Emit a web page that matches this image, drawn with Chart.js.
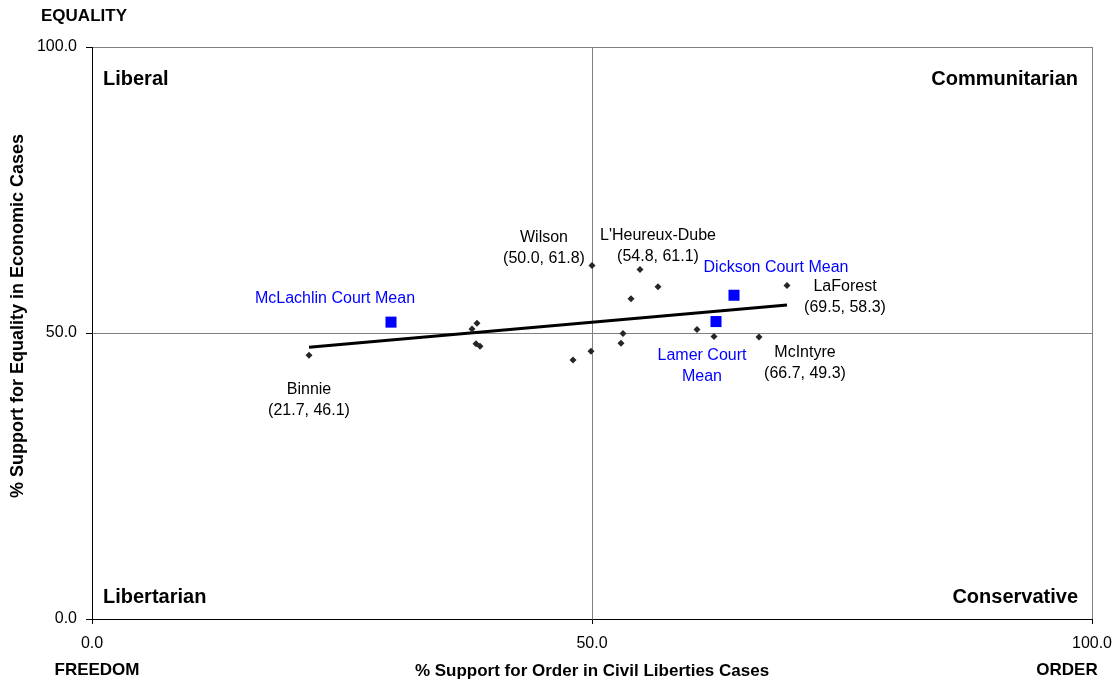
<!DOCTYPE html>
<html>
<head>
<meta charset="utf-8">
<script src="https://cdn.jsdelivr.net/npm/chart.js@4.4.1/dist/chart.umd.min.js"></script>
<style>
  html, body { margin: 0; padding: 0; background: #fff; }
  #wrap { width: 1119px; height: 686px; }
</style>
</head>
<body>
<div id="wrap"><canvas id="chart" width="1119" height="686"></canvas></div>
<script>
// Justices: % order in civil liberties cases (x) vs % equality in economic cases (y)
const justiceNames = ['Binnie', 'Wilson', "L'Heureux-Dube", 'LaForest', 'McIntyre',
    '', '', '', '', '', '', '', '', '', '', '', ''];
const justiceX = [21.7, 50.0, 54.8, 69.5, 66.7,
    38.5, 38.0, 38.4, 38.8, 56.6, 53.9, 60.5, 62.2, 53.1, 52.9, 49.9, 48.1];
const justiceY = [46.1, 61.8, 61.1, 58.3, 49.3,
    51.7, 50.7, 48.1, 47.7, 58.1, 56.0, 50.6, 49.4, 49.9, 48.2, 46.8, 45.3];

// Court means
const courtLabels = [['McLachlin Court Mean'], ['Lamer Court', 'Mean'], ['Dickson Court Mean']];
const courtX = [29.9, 62.4, 64.2];
const courtY = [51.9, 52.0, 56.6];

// Trend line end points
const trendX = [21.7, 69.5];
const trendY = [47.5, 54.9];

const axisTicks = [0, 50, 100];
const quadrants = ['Liberal', 'Communitarian', 'Libertarian', 'Conservative'];
const yTitle = '% Support for Equality in Economic Cases';

Chart.defaults.font.family = "'Liberation Sans', Arial, sans-serif";
Chart.defaults.color = '#000';

// label placement, pixel offset of the first line from the point
const labelOffsets = {
    'Binnie': [0, 34],
    'Wilson': [-48, -28],
    "L'Heureux-Dube": [18, -34],
    'LaForest': [58, 1],
    'McIntyre': [46, 16],
    'McLachlin Court Mean': [-56, -24],
    'Lamer Court': [-14, 34],
    'Dickson Court Mean': [42, -28]
};

const annotations = {
    id: 'annotations',
    afterDatasetsDraw(chart) {
        const ctx = chart.ctx;
        const area = chart.chartArea;
        const xs = chart.scales.x, ys = chart.scales.y;
        ctx.save();
        ctx.textBaseline = 'middle';
        ctx.textAlign = 'center';

        // justice labels
        ctx.font = "16px 'Liberation Sans', Arial";
        ctx.fillStyle = '#000';
        justiceNames.forEach((name, i) => {
            if (!name) return;
            const off = labelOffsets[name];
            const px = xs.getPixelForValue(justiceX[i]) + off[0];
            const py = ys.getPixelForValue(justiceY[i]) + off[1];
            ctx.fillText(name, px, py);
            ctx.fillText('(' + justiceX[i].toFixed(1) + ', ' + justiceY[i].toFixed(1) + ')', px, py + 21);
        });

        // court mean labels
        ctx.fillStyle = '#0000ff';
        courtLabels.forEach((lines, i) => {
            const off = labelOffsets[lines[0]];
            const px = xs.getPixelForValue(courtX[i]) + off[0];
            const py = ys.getPixelForValue(courtY[i]) + off[1];
            lines.forEach((t, j) => ctx.fillText(t, px, py + j * 21));
        });

        // quadrant names
        ctx.fillStyle = '#000';
        ctx.font = "bold 20px 'Liberation Sans', Arial";
        ctx.textAlign = 'left';
        ctx.fillText(quadrants[0], area.left + 11, area.top + 32);
        ctx.fillText(quadrants[2], area.left + 11, area.bottom - 22);
        ctx.textAlign = 'right';
        ctx.fillText(quadrants[1], area.right - 14, area.top + 32);
        ctx.fillText(quadrants[3], area.right - 14, area.bottom - 22);

        // axis end captions
        ctx.font = "bold 17px 'Liberation Sans', Arial";
        ctx.textAlign = 'center';
        ctx.fillText('EQUALITY', 84, 16);
        ctx.fillText('FREEDOM', 97, 670);
        ctx.fillText('ORDER', 1067, 670);

        // vertical axis title
        ctx.font = "bold 18px 'Liberation Sans', Arial";
        ctx.translate(18, (area.top + area.bottom) / 2 - 17);
        ctx.rotate(-Math.PI / 2);
        ctx.fillText(yTitle, 0, 0);
        ctx.restore();
    }
};

const toPoints = (xArr, yArr) => xArr.map((x, i) => ({ x: x, y: yArr[i] }));

new Chart(document.getElementById('chart'), {
    type: 'scatter',
    data: {
        datasets: [
            {
                label: 'Justices',
                data: toPoints(justiceX, justiceY),
                pointStyle: 'rectRot',
                pointRadius: 3.5,
                backgroundColor: '#262626',
                borderColor: '#262626',
                borderWidth: 0
            },
            {
                label: 'Court Means',
                data: toPoints(courtX, courtY),
                pointStyle: 'rect',
                pointRadius: 7.8,
                backgroundColor: '#0000ff',
                borderColor: '#0000ff',
                borderWidth: 0
            },
            {
                label: 'Trend',
                data: toPoints(trendX, trendY),
                showLine: true,
                pointRadius: 0,
                borderColor: '#000',
                borderWidth: 3
            }
        ]
    },
    options: {
        responsive: false,
        animation: false,
        layout: { padding: { top: 47, right: 27, left: 0, bottom: 0 } },
        plugins: {
            legend: { display: false },
            tooltip: { enabled: false }
        },
        scales: {
            x: {
                type: 'linear',
                min: 0,
                max: 100,
                afterBuildTicks: (scale) => { scale.ticks = axisTicks.map(v => ({ value: v })); },
                afterFit: (scale) => {
                    scale.height = 67;
                    scale.paddingLeft = 0;
                    scale.paddingRight = 0;
                },
                ticks: {
                    padding: 10,
                    font: { size: 16 },
                    color: '#000',
                    maxRotation: 0,
                    callback: (v) => Number(v).toFixed(1)
                },
                grid: { color: '#808080', lineWidth: 1, tickLength: 5, tickColor: '#000' },
                border: { color: '#000', width: 1 },
                title: {
                    display: true,
                    text: '% Support for Order in Civil Liberties Cases',
                    font: { size: 17, weight: 'bold' },
                    color: '#000',
                    padding: { top: 0, bottom: 4 }
                }
            },
            y: {
                type: 'linear',
                min: 0,
                max: 100,
                afterBuildTicks: (scale) => { scale.ticks = axisTicks.map(v => ({ value: v })); },
                afterFit: (scale) => {
                    scale.width = 92;
                    scale.paddingTop = 0;
                    scale.paddingBottom = 0;
                },
                ticks: {
                    padding: 9,
                    font: { size: 16 },
                    color: '#000',
                    callback: (v) => Number(v).toFixed(1)
                },
                grid: { color: '#808080', lineWidth: 1, tickLength: 6, tickColor: '#000' },
                border: { color: '#000', width: 1 }
            }
        }
    },
    plugins: [annotations]
});
</script>
</body>
</html>
